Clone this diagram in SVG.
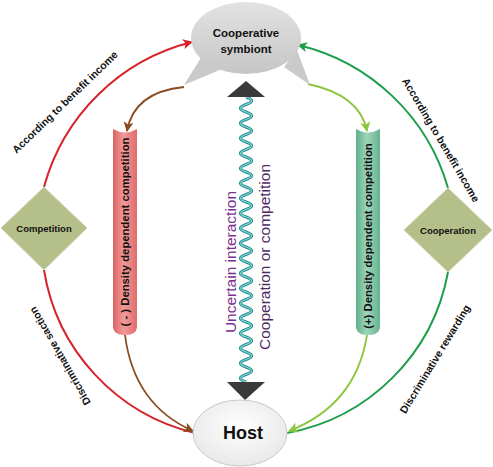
<svg xmlns="http://www.w3.org/2000/svg" width="493" height="467" viewBox="0 0 493 467">
<style>
.lbl{font-family:"Liberation Sans",Arial,sans-serif;font-weight:bold;fill:#111}
.arc{fill:none;stroke-width:2}
.big{font-family:"Liberation Sans",Arial,sans-serif;font-size:15.5px}
</style>
<defs>
<linearGradient id="gGray" x1="0" y1="0" x2="0" y2="1"><stop offset="0" stop-color="#e2e2e2"/><stop offset="1" stop-color="#c6c6c6"/></linearGradient>
<radialGradient id="gHost" cx="0.5" cy="0.4" r="0.6"><stop offset="0" stop-color="#ffffff"/><stop offset="1" stop-color="#e8e8e8"/></radialGradient>
<linearGradient id="gPink" x1="0" y1="0" x2="1" y2="0"><stop offset="0" stop-color="#dc6466"/><stop offset="0.45" stop-color="#f29a98"/><stop offset="1" stop-color="#df6b6c"/></linearGradient>
<linearGradient id="gMint" x1="0" y1="0" x2="1" y2="0"><stop offset="0" stop-color="#5fae8a"/><stop offset="0.45" stop-color="#9ed5b8"/><stop offset="1" stop-color="#66b390"/></linearGradient>
<marker id="mRed" viewBox="0 0 10 10" refX="9" refY="5" markerWidth="13" markerHeight="10" markerUnits="userSpaceOnUse" orient="auto"><path d="M0,0 L10,5 L0,10 L2.5,5 Z" fill="#d7242b"/></marker>
<marker id="mGreen" viewBox="0 0 10 10" refX="9" refY="5" markerWidth="13" markerHeight="10" markerUnits="userSpaceOnUse" orient="auto"><path d="M0,0 L10,5 L0,10 L2.5,5 Z" fill="#1e9e4a"/></marker>
<marker id="mBrown" viewBox="0 0 10 10" refX="9" refY="5" markerWidth="13" markerHeight="10" markerUnits="userSpaceOnUse" orient="auto"><path d="M0,0 L10,5 L0,10 L2.5,5 Z" fill="#8a4b1f"/></marker>
<marker id="mLime" viewBox="0 0 10 10" refX="9" refY="5" markerWidth="13" markerHeight="10" markerUnits="userSpaceOnUse" orient="auto"><path d="M0,0 L10,5 L0,10 L2.5,5 Z" fill="#8cc63f"/></marker>
</defs>
<rect width="493" height="467" fill="#ffffff"/>

<g id="connectors">
  <path class="arc" stroke="#d7242b" d="M195,433 A200,200 0 0 1 44,270"/>
  <path class="arc" stroke="#d7242b" d="M44,187 A205,205 0 0 1 192,42" marker-end="url(#mRed)"/>
  <path class="arc" stroke="#1e9e4a" d="M287,433 A200,200 0 0 0 448,272"/>
  <path class="arc" stroke="#1e9e4a" d="M448,188 A205,205 0 0 0 298,45" marker-end="url(#mGreen)"/>
  <path fill="none" stroke="#8a4b1f" stroke-width="1.8" d="M184,87 Q134,92 127,131" marker-end="url(#mBrown)"/>
  <path fill="none" stroke="#8a4b1f" stroke-width="1.8" d="M125,335 Q134,405 193,431" marker-end="url(#mBrown)"/>
  <path fill="none" stroke="#8cc63f" stroke-width="1.8" d="M308,84 Q360,95 367,131" marker-end="url(#mLime)"/>
  <path fill="none" stroke="#8cc63f" stroke-width="1.8" d="M367,335 Q356,405 289,431" marker-end="url(#mLime)"/>
  <g id="uncertain">
    <path fill="none" stroke="#1f8e94" stroke-width="3.2" d="M246,97 q11,3.75 0,7.5 t0,7.5 t0,7.5 t0,7.5 t0,7.5 t0,7.5 t0,7.5 t0,7.5 t0,7.5 t0,7.5 t0,7.5 t0,7.5 t0,7.5 t0,7.5 t0,7.5 t0,7.5 t0,7.5 t0,7.5 t0,7.5 t0,7.5 t0,7.5 t0,7.5 t0,7.5 t0,7.5 t0,7.5 t0,7.5 t0,7.5 t0,7.5 t0,7.5 t0,7.5 t0,7.5 t0,7.5 t0,7.5 t0,7.5 t0,7.5 t0,7.5 t0,7.5 t0,7.5"/>
    <path fill="none" stroke="#8fd8d6" stroke-width="1.1" d="M246,97 q11,3.75 0,7.5 t0,7.5 t0,7.5 t0,7.5 t0,7.5 t0,7.5 t0,7.5 t0,7.5 t0,7.5 t0,7.5 t0,7.5 t0,7.5 t0,7.5 t0,7.5 t0,7.5 t0,7.5 t0,7.5 t0,7.5 t0,7.5 t0,7.5 t0,7.5 t0,7.5 t0,7.5 t0,7.5 t0,7.5 t0,7.5 t0,7.5 t0,7.5 t0,7.5 t0,7.5 t0,7.5 t0,7.5 t0,7.5 t0,7.5 t0,7.5 t0,7.5 t0,7.5 t0,7.5"/>
    <polygon points="227,97 265,97 246,81" fill="#3a3a3a"/>
    <polygon points="227,382 265,382 245,400" fill="#3a3a3a"/>
    <text class="big" fill="#7a2e8e" transform="translate(236,262) rotate(-90)" text-anchor="middle">Uncertain interaction</text>
    <text class="big" fill="#4d2a63" transform="translate(270,257) rotate(-90)" text-anchor="middle">Cooperation or competition</text>
  </g>
  <text class="lbl" font-size="10.5" text-anchor="middle" dy="0.35em" transform="translate(65,102) rotate(-44)">According to benefit income</text>
  <text class="lbl" font-size="10.5" text-anchor="middle" dy="0.35em" transform="translate(441,140) rotate(59.5)">According to benefit income</text>
  <text class="lbl" font-size="10.5" text-anchor="middle" dy="0.35em" transform="translate(60,356) rotate(-120)">Discriminative saction</text>
  <text class="lbl" font-size="10.5" text-anchor="middle" dy="0.35em" transform="translate(435,359) rotate(-58.6)">Discriminative rewarding</text>
</g>

<g id="symbiont">
  <polygon points="202,56 184,85 222,69" fill="#cacaca"/>
  <polygon points="284,67 310,85 297,50" fill="#cacaca"/>
  <ellipse cx="246" cy="38" rx="55" ry="36" fill="url(#gGray)"/>
  <text class="lbl" font-size="11.5" text-anchor="middle" x="246" y="37">Cooperative</text>
  <text class="lbl" font-size="11.5" text-anchor="middle" x="246" y="53">symbiont</text>
</g>

<g id="host">
  <ellipse cx="240" cy="433" rx="47" ry="33" fill="url(#gHost)" stroke="#c9c9c9" stroke-width="1"/>
  <text class="lbl" font-size="18" text-anchor="middle" x="243" y="439">Host</text>
</g>

<g id="competition">
  <polygon points="44,187 87,228 44,270 1,228" fill="#b5bf89" stroke="#d3d9b7" stroke-width="1"/>
  <text class="lbl" font-size="9.5" text-anchor="middle" x="44" y="232">Competition</text>
</g>

<g id="cooperation">
  <polygon points="448,188 492,230 448,272 404,230" fill="#b5bf89" stroke="#d3d9b7" stroke-width="1"/>
  <text class="lbl" font-size="9.5" text-anchor="middle" x="448" y="234">Cooperation</text>
</g>

<g id="neg-density">
  <path d="M113,129 Q125,136 137,129 V326 Q137,335 125,335 Q113,335 113,326 Z" fill="url(#gPink)"/>
  <text class="lbl" font-size="11.3" text-anchor="middle" dy="0.35em" transform="translate(125,232) rotate(-90)">( - ) Density dependent competition</text>
</g>

<g id="pos-density">
  <path d="M356,129 Q368,136 380,129 V326 Q380,335 368,335 Q356,335 356,326 Z" fill="url(#gMint)"/>
  <text class="lbl" font-size="11.3" text-anchor="middle" dy="0.35em" transform="translate(368,236) rotate(-90)">(+) Density dependent competition</text>
</g>
</svg>
